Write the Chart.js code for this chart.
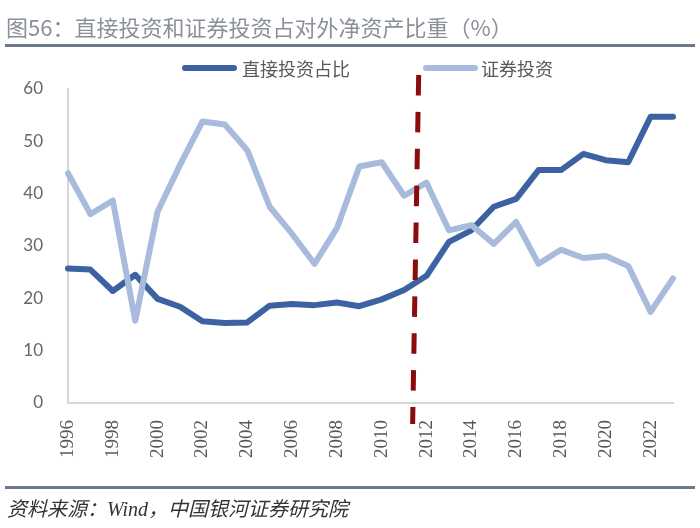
<!DOCTYPE html>
<html>
<head>
<meta charset="utf-8">
<script src="https://cdn.jsdelivr.net/npm/chart.js@4"></script>
<style>
  html, body { margin: 0; padding: 0; background: #fff; }
  #wrap { position: relative; width: 700px; height: 528px; overflow: hidden; }
  #chart { position: absolute; left: 0; top: 0; }
  .title {
    position: absolute; left: 6px; top: 10px; white-space: nowrap;
    font-family: "Noto Sans CJK SC", sans-serif; font-size: 22px; line-height: 32px;
    color: #8a9099;
  }
  .rule { position: absolute; left: 5px; width: 690px; height: 3px; background: #6c7a8c; }
  .leg-line { position: absolute; height: 6px; width: 55px; border-radius: 3px; top: 65px; }
  .leg-text {
    position: absolute; top: 55px; line-height: 26px; white-space: nowrap;
    font-family: "Noto Sans CJK SC", sans-serif; font-size: 18px; color: #595959;
  }
  .source {
    position: absolute; left: 7px; top: 495px; line-height: 28px; white-space: nowrap;
    font-family: "Liberation Serif", "Noto Sans CJK SC", serif; font-style: italic;
    font-size: 20px; color: #333;
  }
</style>
</head>
<body>
<div id="wrap">
  <canvas id="chart" width="700" height="528"></canvas>
  <div class="title">图56：直接投资和证券投资占对外净资产比重（%）</div>
  <div class="rule" style="top:44px"></div>
  <div class="leg-line" style="left:182px;background:#3d62a2"></div>
  <div class="leg-text" style="left:242px">直接投资占比</div>
  <div class="leg-line" style="left:423px;background:#a8bbdd"></div>
  <div class="leg-text" style="left:481px">证券投资</div>
  <div class="rule" style="top:486px"></div>
  <div class="source">资料来源：Wind，中国银河证券研究院</div>
</div>
<script>
// 数据
const years = ['1996','1997','1998','1999','2000','2001','2002','2003','2004','2005',
  '2006','2007','2008','2009','2010','2011','2012','2013','2014','2015',
  '2016','2017','2018','2019','2020','2021','2022','2023'];
const directShare = [25.7, 25.5, 21.4, 24.5, 19.9, 18.4, 15.6, 15.3, 15.4, 18.6,
  18.9, 18.7, 19.2, 18.5, 19.8, 21.6, 24.3, 30.8, 33.0, 37.5,
  39.0, 44.5, 44.5, 47.6, 46.4, 46.0, 54.7, 54.7];
const portfolioShare = [43.9, 36.1, 38.7, 15.7, 36.6, 45.5, 53.8, 53.2, 48.3, 37.5,
  32.3, 26.6, 33.4, 45.2, 46.0, 39.6, 42.1, 33.0, 34.0, 30.4,
  34.6, 26.6, 29.3, 27.7, 28.1, 26.2, 17.4, 23.8];
const yTicks = [0, 10, 20, 30, 40, 50, 60];
const dividerYear = 2011.55; // 红色虚线位置

// 红色虚线
const dividerPlugin = {
  id: 'divider',
  afterDatasetsDraw(chart) {
    const { ctx, scales: { x, y } } = chart;
    const idx = dividerYear - Number(years[0]);
    const xTop = x.getPixelForValue(idx + 0.1);
    const xBot = x.getPixelForValue(idx - 0.17);
    const yTop = y.getPixelForValue(y.max) - 14;
    const yBot = y.getPixelForValue(0) + 21;
    ctx.save();
    ctx.strokeStyle = '#8b0c0c';
    ctx.lineWidth = 5;
    ctx.setLineDash([20.5, 16.4]);
    ctx.beginPath();
    ctx.moveTo(xTop, yTop);
    ctx.lineTo(xBot, yBot);
    ctx.stroke();
    ctx.restore();
  }
};

new Chart(document.getElementById('chart'), {
  type: 'line',
  data: {
    labels: years,
    datasets: [
      {
        label: '直接投资占比',
        data: directShare,
        borderColor: '#3d62a2',
        borderWidth: 6,
        order: 1
      },
      {
        label: '证券投资',
        data: portfolioShare,
        borderColor: '#a8bbdd',
        borderWidth: 6,
        order: 0
      }
    ]
  },
  options: {
    responsive: false,
    animation: false,
    layout: { padding: { left: 0, top: 89, right: 27, bottom: 65 } },
    elements: {
      point: { radius: 0, hoverRadius: 0 },
      line: { tension: 0, borderJoinStyle: 'round', borderCapStyle: 'round' }
    },
    plugins: {
      legend: { display: false },
      tooltip: { enabled: false }
    },
    scales: {
      x: {
        offset: false,
        grid: { display: false, drawTicks: false },
        border: { color: '#d6d6d6', width: 2 },
        afterFit(s) {
          s.height = 60;
          // 不让旋转标签再挤占左右
          s.paddingLeft = 0;
          s.paddingRight = 0;
        },
        ticks: {
          autoSkip: false,
          minRotation: 90,
          maxRotation: 90,
          padding: 17,
          color: '#595959',
          font: { family: 'Liberation Serif', size: 19 },
          callback(v, i) { return i % 2 === 0 ? years[i] : ''; }
        }
      },
      y: {
        min: yTicks[0],
        max: yTicks[yTicks.length - 1],
        grid: { display: false, drawTicks: false },
        border: { color: '#d6d6d6', width: 2 },
        afterFit(s) { s.width = 68; },
        afterBuildTicks(s) { s.ticks = yTicks.map(v => ({ value: v })); },
        ticks: {
          padding: 25,
          color: '#666',
          font: { family: 'Lato', size: 17 }
        }
      }
    }
  },
  plugins: [dividerPlugin]
});
</script>
</body>
</html>
